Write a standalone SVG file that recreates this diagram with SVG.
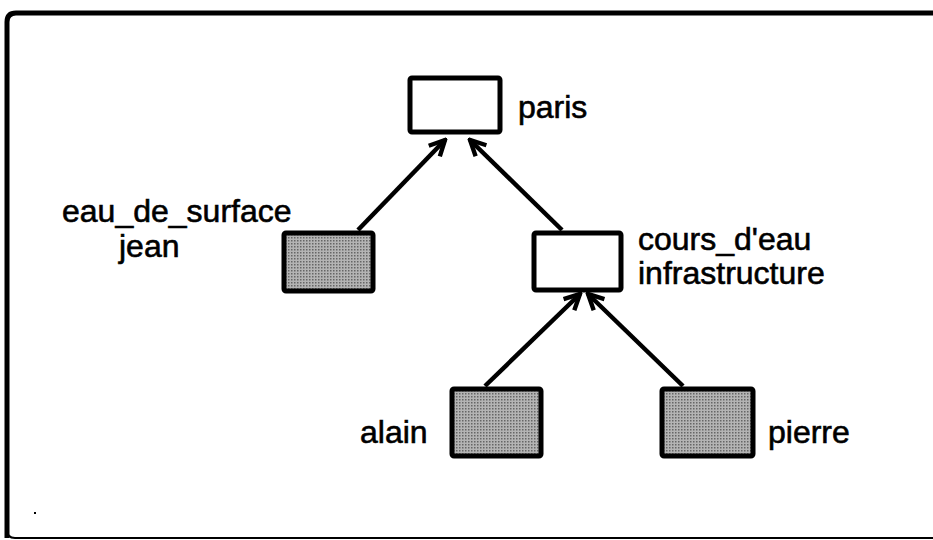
<svg xmlns="http://www.w3.org/2000/svg" width="933" height="540" viewBox="0 0 933 540">
<defs>
<marker id="arr" viewBox="0 0 20 20" refX="18" refY="10" markerWidth="22" markerHeight="22" markerUnits="userSpaceOnUse" orient="auto">
<path d="M4,3 L18,10 L4,17" fill="none" stroke="#000" stroke-width="4" stroke-linejoin="miter"/>
</marker>
<pattern id="dots" width="3" height="3" patternUnits="userSpaceOnUse">
<rect width="3" height="3" fill="#b4b4b4"/>
<rect width="1.5" height="1.5" fill="#666"/>
</pattern>
</defs>
<style>
.box{stroke:#000;stroke-width:5;}
.white{fill:#fff;}
.gray{fill:url(#dots);}
.lbl{font-family:"Liberation Sans",Arial,sans-serif;font-size:32px;fill:#000;stroke:#000;stroke-width:0.6;}
.edge{stroke:#000;stroke-width:4.5;fill:none;marker-end:url(#arr);}
</style>
<rect width="933" height="540" fill="#fff"/>
<g id="frame">
<path d="M7,538 L7,22 Q7,13 16,13 L933,13" fill="none" stroke="#000" stroke-width="5"/>
<path d="M7,530 Q7,538 15,538 L933,538" fill="none" stroke="#000" stroke-width="2"/>
<rect x="34" y="512" width="2" height="2" fill="#000"/>
</g>
<g id="connectors">
<line class="edge" x1="358" y1="230" x2="445" y2="140"/>
<line class="edge" x1="562" y1="230" x2="470" y2="140"/>
<line class="edge" x1="485" y1="386" x2="580" y2="294"/>
<line class="edge" x1="683" y1="386" x2="588" y2="294"/>
</g>
<g id="paris">
<rect class="box white" x="410" y="78" width="90" height="54" rx="2"/>
<text class="lbl" x="518" y="118">paris</text>
</g>
<g id="eau_de_surface">
<rect class="box gray" x="284" y="233" width="89" height="58" rx="2"/>
<text class="lbl" x="62" y="222">eau_de_surface</text>
<text class="lbl" x="119" y="257">jean</text>
</g>
<g id="cours_d_eau">
<rect class="box white" x="534" y="233" width="87" height="57" rx="2"/>
<text class="lbl" x="638" y="250">cours_d'eau</text>
<text class="lbl" x="638" y="284">infrastructure</text>
</g>
<g id="alain">
<rect class="box gray" x="452" y="389" width="89" height="67" rx="2"/>
<text class="lbl" x="360" y="443">alain</text>
</g>
<g id="pierre">
<rect class="box gray" x="662" y="389" width="91" height="67" rx="2"/>
<text class="lbl" x="768" y="443">pierre</text>
</g>
</svg>
